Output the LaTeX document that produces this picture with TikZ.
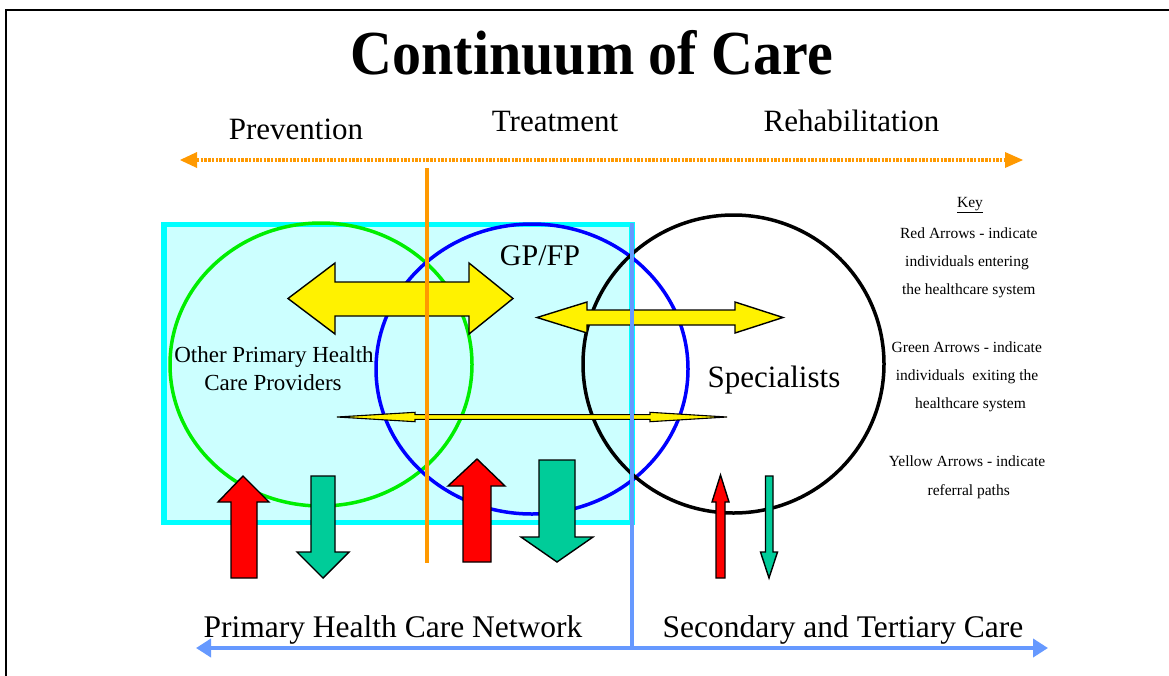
\documentclass[tikz,border=0pt]{standalone}
\usepackage{fontspec}
\setmainfont{Liberation Serif}
\usetikzlibrary{arrows.meta}
\definecolor{orangeC}{HTML}{FF9900}
\definecolor{cyanFill}{HTML}{CCFFFF}
\definecolor{cyanLine}{HTML}{00FFFF}
\definecolor{netBlue}{HTML}{6699FF}
\definecolor{exitGreen}{HTML}{00CC99}
\definecolor{circGreen}{HTML}{00EE00}
\tikzset{
  blockarrow/.style={draw=black, line width=1.4pt, line join=miter},
  yarrow/.style={blockarrow, fill=yellow},
  rarrow/.style={blockarrow, fill=red},
  garrow/.style={blockarrow, fill=exitGreen},
  circ/.style={line width=3.5pt},
  keytext/.style={font=\fontsize{15.5}{18}\selectfont, anchor=center},
  bigtext/.style={font=\fontsize{31}{34}\selectfont, anchor=base},
  tip/.style={fill=#1, draw=none}
}
\begin{document}
\begin{tikzpicture}[x=1pt,y=-1pt]
\useasboundingbox (0,0) rectangle (1169,675);
\fill[white] (0,0) rectangle (1169,675);
% frame
\coordinate (fbl) at (6,680);
\coordinate (ftl) at (6,10);
\coordinate (ftr) at (1175,10);
\draw[line width=2.6pt] (fbl) -- (ftl) -- (ftr);

% title
\node[anchor=base, font=\bfseries\fontsize{58}{60}\selectfont] (title) at (592,74) {\scalebox{1}[1.08]{Continuum of Care}};

% phases
\node[bigtext] (prev) at (296,139.5) {Prevention};
\node[bigtext] (treat) at (555,131.7) {Treatment};
\node[bigtext] (rehab) at (851.5,131.7) {Rehabilitation};

% orange dotted continuum arrow
\coordinate (oL) at (197,160);
\coordinate (oR) at (1005,160);
\draw[orangeC, line width=3.6pt, dash pattern=on 2.4pt off 1.3pt] (oL) -- (oR);
\fill[orangeC] (180,160) -- (197,152) -- (197,168) -- cycle;
\fill[orangeC] (1023,160) -- (1005,152) -- (1005,168) -- cycle;

% primary care box
\draw[fill=cyanFill, draw=cyanLine, line width=5.5pt] (164,224.5) rectangle (632,522.5);

% circles
\draw[circ, circGreen] (321,364.5) ellipse [x radius=151, y radius=141.5];
\draw[circ, blue] (532,369) ellipse [x radius=156, y radius=145];
\draw[circ, black] (733.5,364) ellipse [x radius=150.5, y radius=149];

% labels in circles
\node[anchor=base, font=\fontsize{30}{32}\selectfont] (gp) at (540,265) {GP/FP};
\node[anchor=base, font=\fontsize{23}{28}\selectfont, align=center] (other) at (274,362) {Other Primary Health};
\node[anchor=base, font=\fontsize{23}{28}\selectfont] (other2) at (273,390) {Care Providers};
\node[bigtext] (spec) at (774,387) {Specialists};

% yellow referral arrows
\draw[yarrow] (288,298.5) -- (335,263) -- (335,282) -- (469,282) -- (469,263) -- (513,298.5) -- (469,334) -- (469,316) -- (335,316) -- (335,334) -- cycle;
\draw[yarrow] (537,317.5) -- (587,302) -- (587,310) -- (735,310) -- (735,302) -- (783,317.5) -- (735,333) -- (735,325) -- (587,325) -- (587,333) -- cycle;
\draw[yarrow, line width=1.1pt] (337,417) -- (415,412.3) -- (415,414.6) -- (650,414.6) -- (650,412.3) -- (727,417) -- (650,421.7) -- (650,419.4) -- (415,419.4) -- (415,421.7) -- cycle;

% orange vertical divider
\coordinate (ovT) at (427,168);
\coordinate (ovB) at (427,563);
\draw[orangeC, line width=4.5pt] (ovT) -- (ovB);

% blue network lines
\coordinate (bvT) at (632,223);
\coordinate (bvB) at (632,648);
\coordinate (bL) at (196,648);
\coordinate (bR) at (1048,648);
\draw[netBlue, line width=4pt] (bvT) -- (bvB);
\draw[netBlue, line width=4pt, {Triangle[length=15pt,width=18pt]}-{Triangle[length=15pt,width=18pt]}] (bL) -- (bR);

% red (entering) and green (exiting) arrows
\draw[rarrow] (243,476) -- (269,502) -- (257,502) -- (257,578) -- (231,578) -- (231,502) -- (218,502) -- cycle;
\draw[garrow] (311,476) -- (335,476) -- (335,552) -- (349,552) -- (323,578) -- (297,552) -- (311,552) -- cycle;
\draw[rarrow] (477,459) -- (505,486) -- (491,486) -- (491,562) -- (463,562) -- (463,486) -- (448,486) -- cycle;
\draw[garrow] (539,460) -- (575,460) -- (575,537) -- (593,537) -- (557,562) -- (521,537) -- (539,537) -- cycle;
\draw[rarrow] (720.5,475) -- (729,502) -- (725,502) -- (725,578) -- (716,578) -- (716,502) -- (712,502) -- cycle;
\draw[garrow] (765.5,476) -- (773,476) -- (773,552) -- (777.5,552) -- (769,578) -- (760.5,552) -- (765.5,552) -- cycle;

% bottom labels
\node[anchor=base, font=\fontsize{31.5}{34}\selectfont] (phcn) at (393,637) {Primary Health Care Network};
\node[anchor=base, font=\fontsize{31.5}{34}\selectfont] (stc) at (843,637) {Secondary and Tertiary Care};

% key
\node[keytext] (key) at (970,205) {\underline{Key}};
\node[keytext] (k1) at (968.8,233) {Red Arrows - indicate};
\node[keytext] (k2) at (967,263) {individuals entering};
\node[keytext] (k3) at (968.8,291) {the healthcare system};
\node[keytext] (k4) at (966.8,347) {Green Arrows - indicate};
\node[keytext] (k5) at (967,377) {individuals\ \ exiting the};
\node[keytext] (k6) at (970.5,405) {healthcare system};
\node[keytext] (k7) at (967,461) {Yellow Arrows - indicate};
\node[keytext] (k8) at (968.7,492) {referral paths};
\end{tikzpicture}
\end{document}
